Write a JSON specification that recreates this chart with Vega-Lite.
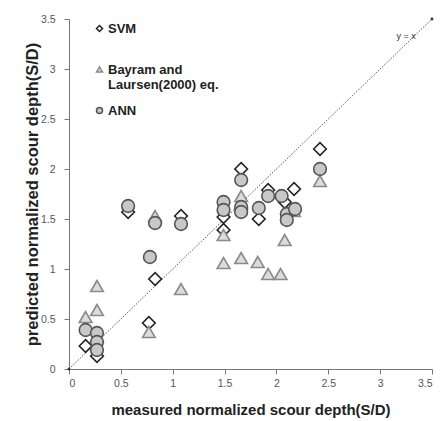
{
  "$schema": "https://vega.github.io/schema/vega-lite/v6.json",
  "width": 363,
  "height": 350,
  "autosize": {"type": "none"},
  "padding": {"left": 69, "top": 19, "right": 9, "bottom": 52},
  "background": "white",
  "config": {
    "view": {"stroke": null},
    "font": "Liberation Sans",
    "axis": {
      "grid": false,
      "domainColor": "#777",
      "tickColor": "#777",
      "tickSize": 5,
      "labelColor": "#555",
      "labelFontSize": 10.5,
      "labelFont": "Liberation Sans",
      "titleFont": "Liberation Sans",
      "titleFontWeight": "bold",
      "titleColor": "#222"
    }
  },
  "datasets": {
    "pts": [
      {"model": "SVM", "measured": 0.16, "predicted": 0.23},
      {"model": "SVM", "measured": 0.27, "predicted": 0.13},
      {"model": "SVM", "measured": 0.27, "predicted": 0.27},
      {"model": "SVM", "measured": 0.57, "predicted": 1.57},
      {"model": "SVM", "measured": 0.77, "predicted": 0.46},
      {"model": "SVM", "measured": 0.83, "predicted": 0.9},
      {"model": "SVM", "measured": 1.08, "predicted": 1.53},
      {"model": "SVM", "measured": 1.49, "predicted": 1.52},
      {"model": "SVM", "measured": 1.49, "predicted": 1.39},
      {"model": "SVM", "measured": 1.66, "predicted": 2.0},
      {"model": "SVM", "measured": 1.66, "predicted": 1.6},
      {"model": "SVM", "measured": 1.83, "predicted": 1.5},
      {"model": "SVM", "measured": 1.92, "predicted": 1.79},
      {"model": "SVM", "measured": 2.08, "predicted": 1.67},
      {"model": "SVM", "measured": 2.17, "predicted": 1.8},
      {"model": "SVM", "measured": 2.42, "predicted": 2.2},
      {"model": "Bayram and Laursen(2000) eq.", "measured": 0.16, "predicted": 0.52},
      {"model": "Bayram and Laursen(2000) eq.", "measured": 0.27, "predicted": 0.59},
      {"model": "Bayram and Laursen(2000) eq.", "measured": 0.27, "predicted": 0.83},
      {"model": "Bayram and Laursen(2000) eq.", "measured": 0.77, "predicted": 0.37},
      {"model": "Bayram and Laursen(2000) eq.", "measured": 0.83, "predicted": 1.53},
      {"model": "Bayram and Laursen(2000) eq.", "measured": 1.08, "predicted": 0.8},
      {"model": "Bayram and Laursen(2000) eq.", "measured": 1.49, "predicted": 1.34},
      {"model": "Bayram and Laursen(2000) eq.", "measured": 1.49, "predicted": 1.06},
      {"model": "Bayram and Laursen(2000) eq.", "measured": 1.66, "predicted": 1.73},
      {"model": "Bayram and Laursen(2000) eq.", "measured": 1.66, "predicted": 1.11},
      {"model": "Bayram and Laursen(2000) eq.", "measured": 1.82, "predicted": 1.07},
      {"model": "Bayram and Laursen(2000) eq.", "measured": 1.92, "predicted": 0.95},
      {"model": "Bayram and Laursen(2000) eq.", "measured": 2.04, "predicted": 0.95},
      {"model": "Bayram and Laursen(2000) eq.", "measured": 2.08, "predicted": 1.29},
      {"model": "Bayram and Laursen(2000) eq.", "measured": 2.17, "predicted": 1.58},
      {"model": "Bayram and Laursen(2000) eq.", "measured": 2.42, "predicted": 1.88},
      {"model": "ANN", "measured": 0.16, "predicted": 0.39},
      {"model": "ANN", "measured": 0.27, "predicted": 0.36},
      {"model": "ANN", "measured": 0.27, "predicted": 0.27},
      {"model": "ANN", "measured": 0.27, "predicted": 0.19},
      {"model": "ANN", "measured": 0.57, "predicted": 1.63},
      {"model": "ANN", "measured": 0.78, "predicted": 1.12},
      {"model": "ANN", "measured": 0.83, "predicted": 1.46},
      {"model": "ANN", "measured": 1.08, "predicted": 1.45},
      {"model": "ANN", "measured": 1.49, "predicted": 1.67},
      {"model": "ANN", "measured": 1.49, "predicted": 1.59},
      {"model": "ANN", "measured": 1.66, "predicted": 1.89},
      {"model": "ANN", "measured": 1.66, "predicted": 1.62},
      {"model": "ANN", "measured": 1.66, "predicted": 1.57},
      {"model": "ANN", "measured": 1.83, "predicted": 1.61},
      {"model": "ANN", "measured": 1.92, "predicted": 1.73},
      {"model": "ANN", "measured": 2.05, "predicted": 1.73},
      {"model": "ANN", "measured": 2.1, "predicted": 1.55},
      {"model": "ANN", "measured": 2.1, "predicted": 1.49},
      {"model": "ANN", "measured": 2.18, "predicted": 1.6},
      {"model": "ANN", "measured": 2.42, "predicted": 2.0}
    ],
    "diag": [
      {"measured": 0, "predicted": 0},
      {"measured": 3.5, "predicted": 3.5}
    ],
    "note": [
      {"measured": 3.25, "predicted": 3.33, "label": "y = x"}
    ]
  },
  "layer": [
    {
      "data": {"name": "diag"},
      "mark": {"type": "line", "strokeDash": [1.5, 1.5], "color": "#555", "strokeWidth": 1, "point": {"filled": true, "size": 8, "color": "#333"}},
      "encoding": {
        "x": {"field": "measured", "type": "quantitative", "scale": {"domain": [0, 3.5], "nice": false},
          "axis": {"values": [0, 0.5, 1, 1.5, 2, 2.5, 3, 3.5], "format": "~g", "title": "measured normalized scour depth(S/D)", "titleFontSize": 15, "labelPadding": 4, "titlePadding": 14}},
        "y": {"field": "predicted", "type": "quantitative", "scale": {"domain": [0, 3.5], "nice": false},
          "axis": {"values": [0, 0.5, 1, 1.5, 2, 2.5, 3, 3.5], "format": "~g", "title": "predicted normalized scour depth(S/D)", "titleFontSize": 16.5, "labelPadding": 9, "titlePadding": 0}}
      }
    },
    {
      "data": {"name": "note"},
      "mark": {"type": "text", "fontSize": 9, "color": "#333", "font": "Liberation Sans"},
      "encoding": {
        "x": {"field": "measured", "type": "quantitative"},
        "y": {"field": "predicted", "type": "quantitative"},
        "text": {"field": "label"}
      }
    },
    {
      "data": {"name": "pts"},
      "mark": {"type": "point", "filled": false, "size": 160, "strokeWidth": 1.6, "opacity": 1},
      "encoding": {
        "x": {"field": "measured", "type": "quantitative"},
        "y": {"field": "predicted", "type": "quantitative"},
        "shape": {"field": "model", "type": "nominal",
          "scale": {"domain": ["SVM", "Bayram and Laursen(2000) eq.", "ANN"], "range": ["diamond", "triangle-up", "circle"]},
          "legend": {"title": null, "orient": "none", "legendX": 24, "legendY": 3,
            "labelExpr": "datum.label == 'Bayram and Laursen(2000) eq.' ? ['Bayram and', 'Laursen(2000) eq.'] : datum.label == 'SVM' ? ['SVM', ''] : datum.label",
            "labelFont": "Liberation Sans", "labelFontWeight": "bold", "labelFontSize": 13, "labelColor": "#222",
            "symbolSize": 36, "symbolStrokeWidth": 1.5, "rowPadding": 12, "labelOffset": 2}},
        "fill": {"field": "model", "type": "nominal",
          "scale": {"domain": ["SVM", "Bayram and Laursen(2000) eq.", "ANN"], "range": ["#ffffff", "#dcdcdc", "#c8c8c8"]}},
        "stroke": {"field": "model", "type": "nominal",
          "scale": {"domain": ["SVM", "Bayram and Laursen(2000) eq.", "ANN"], "range": ["#222222", "#8a8a8a", "#555555"]}}
      }
    }
  ]
}
